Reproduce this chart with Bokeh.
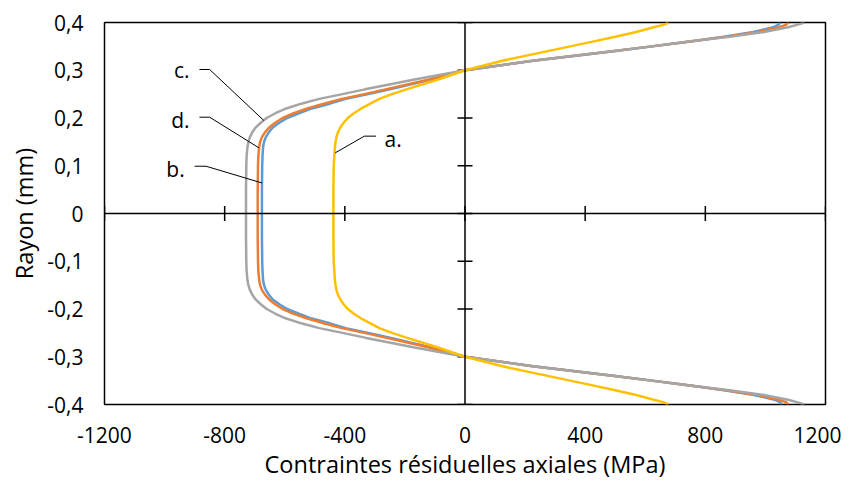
import numpy as np
from bokeh.plotting import figure
from bokeh.models import Range1d, FixedTicker, CustomJSTickFormatter, Span, ColumnDataSource
from bokeh.core.properties import value
from bokeh.embed import file_html
from bokeh.resources import INLINE

# ---------------- data ----------------
rayon = [0.40, 0.395, 0.39, 0.38, 0.37, 0.36, 0.35, 0.34, 0.32, 0.30, 0.28, 0.26, 0.25, 0.24,
         0.23, 0.22, 0.21, 0.20, 0.19, 0.18, 0.17, 0.16, 0.15, 0.14, 0.12, 0.10, 0.05, 0.00,
         -0.05, -0.10, -0.12, -0.14, -0.15, -0.16, -0.17, -0.18, -0.19, -0.20, -0.21, -0.22,
         -0.23, -0.24, -0.25, -0.26, -0.28, -0.30, -0.32, -0.34, -0.35, -0.36, -0.37, -0.38,
         -0.39, -0.395, -0.40]

serie_a = [678, 660, 628, 570, 500, 425, 350, 275, 125, 0, -92, -195, -243, -285,
           -315, -345, -370, -390, -404, -415, -423, -428, -431, -433, -435, -437, -438, -438,
           -438, -437, -435, -433, -431, -428, -423, -415, -404, -390, -370, -345,
           -315, -285, -243, -195, -92, 0, 125, 275, 350, 425, 500, 570,
           628, 660, 678]

serie_b = [1050, 1042, 1025, 960, 862, 752, 625, 495, 228, 0, -115, -250, -322, -397,
           -450, -510, -553, -592, -618, -640, -653, -663, -669, -672, -674, -675, -676, -676,
           -676, -675, -674, -672, -669, -663, -653, -640, -618, -592, -553, -510,
           -450, -397, -322, -250, -115, 0, 228, 495, 625, 752, 862, 962,
           1030, 1048, 1055]

serie_c = [1130, 1105, 1075, 995, 880, 745, 620, 490, 225, 0, -172, -333, -408, -485,
           -545, -595, -631, -660, -680, -697, -708, -716, -721, -724, -727, -728, -729, -729,
           -729, -728, -727, -724, -721, -716, -708, -697, -680, -660, -631, -595,
           -545, -485, -408, -333, -172, 0, 225, 490, 620, 745, 880, 995,
           1075, 1105, 1130]

serie_d = [1077, 1068, 1045, 975, 868, 748, 620, 490, 225, 0, -122, -265, -335, -410,
           -470, -525, -570, -607, -632, -652, -666, -676, -682, -685, -688, -689, -690, -690,
           -690, -689, -688, -685, -682, -676, -666, -652, -632, -607, -570, -525,
           -470, -410, -335, -265, -122, 0, 225, 490, 620, 748, 868, 975,
           1045, 1068, 1077]

x_ticks = [-1200, -800, -400, 0, 400, 800, 1200]
y_ticks = [-0.4, -0.3, -0.2, -0.1, 0.0, 0.1, 0.2, 0.3, 0.4]

# labels with leader lines
label_text = ["a.", "b.", "c.", "d."]
label_x = [-268, -933, -917, -917]
label_y = [0.155, 0.093, 0.300, 0.196]
label_align = ["left", "right", "right", "right"]
leader_x = [[-296, -335, -432], [-900, -862, -676], [-884, -850, -670], [-884, -850, -686]]
leader_y = [[0.162, 0.162, 0.127], [0.099, 0.099, 0.064], [0.3016, 0.3016, 0.195], [0.2017, 0.2017, 0.1375]]

colors = {"a": "#FFC000", "b": "#5B9BD5", "c": "#A5A5A5", "d": "#ED7D31"}

FONT = "Open Sans"
FS = "21px"
FS_TITLE = "23.5px"

p = figure(width=841, height=485, x_range=Range1d(-1200, 1200), y_range=Range1d(-0.4, 0.4),
           output_backend="svg", toolbar_location=None,
           min_border_left=104, min_border_right=16, min_border_top=22, min_border_bottom=81)
p.background_fill_color = "white"
p.border_fill_color = "white"
p.outline_line_color = "black"
p.outline_line_width = 1.5
p.xgrid.visible = False
p.ygrid.visible = False

for ax in (p.xaxis[0], p.yaxis[0]):
    ax.axis_line_color = None
    ax.major_tick_line_color = None
    ax.minor_tick_line_color = None
    ax.major_tick_out = 0
    ax.major_tick_in = 0
    ax.major_label_text_font = FONT
    ax.major_label_text_font_size = FS
    ax.major_label_text_color = "black"
    ax.axis_label_text_font = FONT
    ax.axis_label_text_font_size = FS_TITLE
    ax.axis_label_text_font_style = "normal"
    ax.axis_label_text_color = "black"

p.xaxis.ticker = FixedTicker(ticks=x_ticks)
p.yaxis.ticker = FixedTicker(ticks=y_ticks)
p.xaxis.formatter = CustomJSTickFormatter(code="return String(Math.round(tick));")
p.yaxis.formatter = CustomJSTickFormatter(
    code="if (Math.abs(tick) < 1e-9) { return '0'; } return tick.toFixed(1).replace('.', ',');")
p.xaxis.major_label_standoff = 22
p.yaxis.major_label_standoff = 21
p.xaxis.axis_label = "Contraintes résiduelles axiales (MPa)"
p.yaxis.axis_label = "Rayon (mm)"
p.xaxis.axis_label_standoff = 2
p.yaxis.axis_label_standoff = 4

# zero axes
p.add_layout(Span(location=0, dimension="width", line_color="black", line_width=1.5))
p.add_layout(Span(location=0, dimension="height", line_color="black", line_width=1.5))
p.scatter(x=x_ticks, y=[0] * len(x_ticks), marker="dash", angle=np.pi / 2, size=15,
          line_color="black", line_width=1.5)
p.scatter(x=[0] * len(y_ticks), y=y_ticks, marker="dash", size=15,
          line_color="black", line_width=1.5)

# series
for key, vals in (("b", serie_b), ("d", serie_d), ("c", serie_c), ("a", serie_a)):
    p.line(x=vals, y=rayon, line_color=colors[key], line_width=2.5)

# leaders and labels
p.multi_line(xs=leader_x, ys=leader_y, line_color="black", line_width=1)
src = ColumnDataSource(dict(x=label_x, y=label_y, t=label_text, a=label_align))
p.text(x="x", y="y", text="t", text_align="a", text_baseline="middle", source=src,
       text_font=value(FONT), text_font_size=FS, text_color="black")

open("out.html", "w").write(file_html(p, INLINE))
